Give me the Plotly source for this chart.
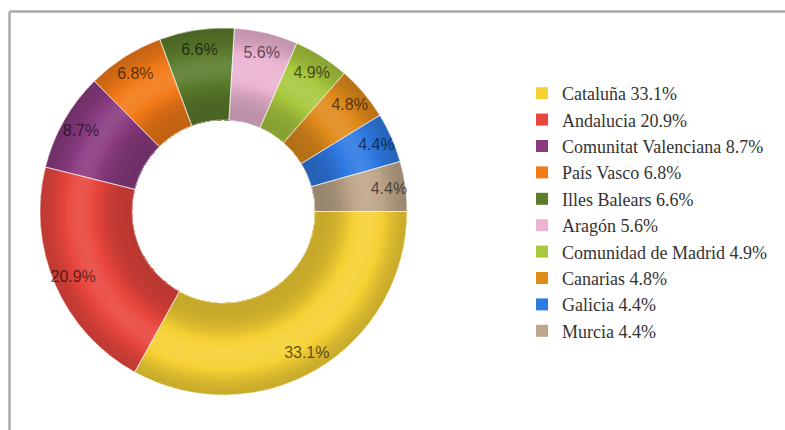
import math
import plotly.graph_objects as go

# Share of total by autonomous community (%)
regions = ["Cataluña", "Andalucia", "Comunitat Valenciana", "País Vasco", "Illes Balears",
           "Aragón", "Comunidad de Madrid", "Canarias", "Galicia", "Murcia"]
shares = [33.1, 20.9, 8.7, 6.8, 6.6, 5.6, 4.9, 4.8, 4.4, 4.4]
colors = ["#F6D134", "#E9463D", "#8A3B80", "#F27A17", "#5C7C2C",
          "#EBB4D2", "#A8C83E", "#E18B1B", "#2F7BE4", "#BEA68A"]

labels = [f"{r} {v:.1f}%" for r, v in zip(regions, shares)]

W, H = 785, 430
CX, CY = 223.5, 211.5          # ring centre in px
R_OUT, R_IN = 183.5, 91.5      # ring radii in px
R_TEXT, TEXT_HOLE = 190.0, 0.726
N_BANDS = 40


def domain(radius):
    return dict(x=[(CX - radius) / W, (CX + radius) / W],
                y=[(H - CY - radius) / H, (H - CY + radius) / H])


def hex_rgb(h):
    h = h.lstrip("#")
    return [int(h[i:i + 2], 16) for i in (0, 2, 4)]


def shade(h, f):
    rgb = hex_rgb(h)
    if f <= 1:
        rgb = [c * f for c in rgb]
    else:
        t = f - 1
        rgb = [c + (255 - c) * t for c in rgb]
    return "rgb({},{},{})".format(*[int(round(min(255, max(0, c)))) for c in rgb])


def light_profile(t):
    # dark at the inner and outer edges, bright around the middle of the ring
    return 0.80 + 0.29 * math.exp(-((t - 0.57) / 0.26) ** 2)


common = dict(labels=labels, values=shares, sort=False, direction="clockwise",
              rotation=90)

fig = go.Figure()

# base ring (also feeds the legend)
fig.add_trace(go.Pie(**common, domain=domain(R_OUT), hole=R_IN / R_OUT,
                     marker=dict(colors=colors, line=dict(width=0)),
                     textinfo="none", hoverinfo="label", showlegend=True))

# concentric shading bands, outermost first
step = (R_OUT - R_IN) / N_BANDS
for k in range(N_BANDS):
    r_outer = R_OUT - k * step
    t = (r_outer - step / 2 - R_IN) / (R_OUT - R_IN)
    f = light_profile(t)
    fig.add_trace(go.Pie(**common, domain=domain(r_outer), hole=R_IN / r_outer,
                         marker=dict(colors=[shade(c, f) for c in colors],
                                     line=dict(width=0)),
                         textinfo="none", hoverinfo="skip", showlegend=False))

# faint slice separators
fig.add_trace(go.Pie(**common, domain=domain(R_OUT), hole=R_IN / R_OUT,
                     marker=dict(colors=["rgba(0,0,0,0)"] * len(shares),
                                 line=dict(color="rgba(255,255,255,0.55)", width=1)),
                     textinfo="none", hoverinfo="skip", showlegend=False))

# percentage labels near the outer rim
fig.add_trace(go.Pie(**common, domain=domain(R_TEXT), hole=TEXT_HOLE,
                     marker=dict(colors=["rgba(0,0,0,0)"] * len(shares),
                                 line=dict(width=0)),
                     texttemplate="%{value:.1f}%", textposition="inside",
                     insidetextorientation="horizontal",
                     textfont=dict(family="Liberation Sans, Arial", size=16,
                                   color="rgba(0,0,0,0.62)"),
                     hoverinfo="skip", showlegend=False))

# frame lines (top and left)
FRAME_X, FRAME_Y = 9.5, 11.5
fig.add_shape(type="line", xref="paper", yref="paper",
              x0=FRAME_X / W, x1=1.0, y0=1 - FRAME_Y / H, y1=1 - FRAME_Y / H,
              line=dict(color="#A9A9A9", width=2.5))
fig.add_shape(type="line", xref="paper", yref="paper",
              x0=FRAME_X / W, x1=FRAME_X / W, y0=0.0, y1=1 - FRAME_Y / H,
              line=dict(color="#A9A9A9", width=2.5))

fig.update_layout(
    width=W, height=H,
    margin=dict(l=0, r=0, t=0, b=0),
    paper_bgcolor="white", plot_bgcolor="white",
    legend=dict(x=522 / W, y=1 - 75 / H, xanchor="left", yanchor="top",
                bgcolor="rgba(0,0,0,0)",
                font=dict(family="Liberation Serif, Times New Roman", size=18,
                          color="#333333")),
)

fig.write_html("out.html")
